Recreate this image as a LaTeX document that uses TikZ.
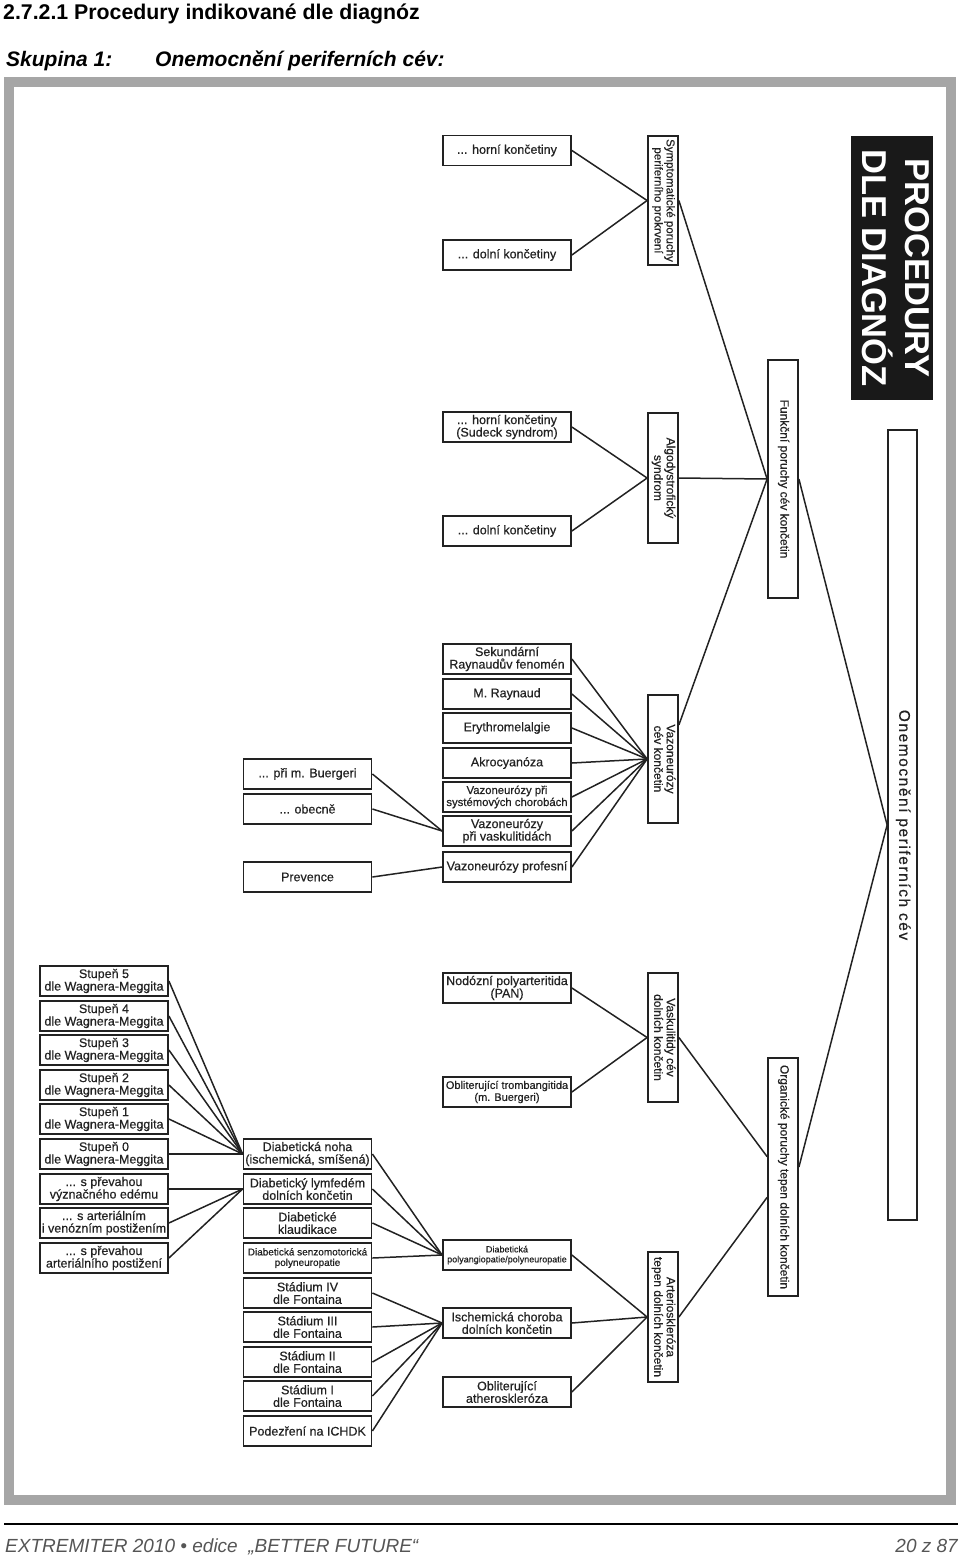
\documentclass[tikz,border=0pt]{standalone}
\usepackage{graphicx}
\usepackage{fontspec}
\setmainfont{Liberation Sans}
\newfontfamily\boxfont{Liberation Sans}[FakeBold=0.5]
\newfontfamily\spacedfont{Liberation Sans}[LetterSpace=10, FakeBold=0.5]
\definecolor{framegray}{HTML}{A6A6A6}
\definecolor{inkgray}{HTML}{222222}
\definecolor{footgray}{HTML}{555555}
\newcommand{\vlabel}[1]{\rotatebox{-90}{\begin{tabular}{@{}c@{}}#1\end{tabular}}}
\tikzset{
	box/.style={draw=inkgray, line width=1.8pt, fill=white, minimum width=128pt, minimum height=30pt, inner sep=1pt, align=center, text=inkgray, font={\boxfont\fontsize{12.5}{12.5}\selectfont}},
	vbox/.style={draw=inkgray, line width=1.8pt, fill=white, minimum width=30pt, inner sep=0pt, text=inkgray, font={\boxfont\fontsize{12}{12.5}\selectfont}},
	wire/.style={draw=inkgray, line width=1.5pt},
}
\begin{document}
\begin{tikzpicture}[x=1pt, y=-1pt]
	\useasboundingbox (0,0) rectangle (960,1558);
	% Heading, frame and footer:
	\node[anchor=base west, inner sep=0pt, font={\bfseries\fontsize{21.3}{24}\selectfont}] (title) at (3,19) {2.7.2.1 Procedury indikované dle diagnóz};
	\node[anchor=base west, inner sep=0pt, font={\bfseries\itshape\fontsize{21}{24}\selectfont}] (skupina) at (6,66) {Skupina 1:};
	\node[anchor=base west, inner sep=0pt, font={\bfseries\itshape\fontsize{21}{24}\selectfont}] (subtitle) at (155,66) {Onemocnění periferních cév:};
	\draw[framegray, line width=10pt] (9,81.5) rectangle (951,1500);
	\draw[line width=1.6pt] (4,1524) -- (958,1524);
	\node[anchor=base west, inner sep=0pt, text=footgray, font={\itshape\fontsize{19}{22}\selectfont}] (footer) at (5,1552) {EXTREMITER 2010 • edice \ „BETTER FUTURE“};
	\node[anchor=base east, inner sep=0pt, text=footgray, font={\itshape\fontsize{19}{22}\selectfont}] (pagenum) at (958,1552) {20 z 87};
	% Right column:
	\node[fill=black!90, minimum width=78pt, minimum height=264pt, inner sep=0pt, text=white, font={\bfseries\fontsize{34.5}{40}\selectfont}] (proc) at (892,268) {\vlabel{PROCEDURY\\DLE DIAGNÓZ}};
	\node[vbox, minimum width=29pt, minimum height=790pt, font={\spacedfont\fontsize{15.5}{16}\selectfont}] (onem) at (902.5,825) {\vlabel{Onemocnění periferních cév}};
	\node[vbox, minimum height=238pt] (funkcni) at (783,479) {\vlabel{Funkční poruchy cév končetin}};
	\node[vbox, minimum height=238pt] (organ) at (783,1177) {\vlabel{Organické poruchy tepen dolních končetin}};
	\node[vbox, minimum height=129pt, font={\boxfont\fontsize{11.5}{12}\selectfont}] (sympt) at (663,200.5) {\vlabel{Symptomatické poruchy\\periferního prokrvení}};
	\node[vbox, minimum height=130pt] (algo) at (663,478) {\vlabel{Algodystrofický\\syndrom}};
	\node[vbox, minimum height=128pt] (vazon) at (663,759) {\vlabel{Vazoneurózy\\cév končetin}};
	\node[vbox, minimum height=129pt] (vaskul) at (663,1037.5) {\vlabel{Vaskulitidy cév\\dolních končetin}};
	\node[vbox, minimum height=130pt] (arterio) at (663,1317) {\vlabel{Arterioskleróza\\tepen dolních končetin}};
	% Middle column:
	\node[box] (horniA) at (507,150.5) {... horní končetiny};
	\node[box] (dolniA) at (507,255) {... dolní končetiny};
	\node[box] (horniB) at (507,427) {... horní končetiny\\(Sudeck syndrom)};
	\node[box] (dolniB) at (507,531) {... dolní končetiny};
	\node[box] (sekund) at (507,659) {Sekundární\\Raynaudův fenomén};
	\node[box] (mraynaud) at (507,694) {M. Raynaud};
	\node[box] (erythro) at (507,728) {Erythromelalgie};
	\node[box] (akro) at (507,763) {Akrocyanóza};
	\node[box, font={\boxfont\fontsize{11.3}{12}\selectfont}] (vazsyst) at (507,797) {Vazoneurózy při\\systémových chorobách};
	\node[box] (vazvask) at (507,831) {Vazoneurózy\\při vaskulitidách};
	\node[box] (vazprof) at (507,867) {Vazoneurózy profesní};
	\node[box] (nodozni) at (507,988) {Nodózní polyarteritida\\(PAN)};
	\node[box, font={\boxfont\fontsize{11}{12}\selectfont}] (oblitTromb) at (507,1092) {Obliterující trombangitida\\(m. Buergeri)};
	\node[box, font={\boxfont\fontsize{9}{10}\selectfont}] (diabPoly) at (507,1255) {Diabetická\\polyangiopatie/polyneuropatie};
	\node[box] (ischem) at (507,1323) {Ischemická choroba\\dolních končetin};
	\node[box] (oblitAth) at (507,1392) {Obliterující\\atheroskleróza};
	% Second column:
	\node[box] (buergeri) at (307.5,774) {... při m. Buergeri};
	\node[box] (obecne) at (307.5,809) {... obecně};
	\node[box] (prevence) at (307.5,877) {Prevence};
	\node[box] (diabNoha) at (307.5,1154) {Diabetická noha\\(ischemická, smíšená)};
	\node[box] (lymfedem) at (307.5,1189) {Diabetický lymfedém\\dolních končetin};
	\node[box] (klaudik) at (307.5,1223) {Diabetické\\klaudikace};
	\node[box, font={\boxfont\fontsize{10}{10.5}\selectfont}] (senzomot) at (307.5,1258) {Diabetická senzomotorická\\polyneuropatie};
	\node[box] (stad4) at (307.5,1293) {Stádium IV\\dle Fontaina};
	\node[box] (stad3) at (307.5,1327) {Stádium III\\dle Fontaina};
	\node[box] (stad2) at (307.5,1362) {Stádium II\\dle Fontaina};
	\node[box] (stad1) at (307.5,1396) {Stádium I\\dle Fontaina};
	\node[box] (ichdk) at (307.5,1431) {Podezření na ICHDK};
	% Left column:
	\node[box] (st5) at (104,981) {Stupeň 5\\dle Wagnera-Meggita};
	\node[box] (st4) at (104,1016) {Stupeň 4\\dle Wagnera-Meggita};
	\node[box] (st3) at (104,1050) {Stupeň 3\\dle Wagnera-Meggita};
	\node[box] (st2) at (104,1085) {Stupeň 2\\dle Wagnera-Meggita};
	\node[box] (st1) at (104,1119) {Stupeň 1\\dle Wagnera-Meggita};
	\node[box] (st0) at (104,1154) {Stupeň 0\\dle Wagnera-Meggita};
	\node[box] (edem) at (104,1189) {... s převahou\\význačného edému};
	\node[box] (venoz) at (104,1223) {... s arteriálním\\i venózním postižením};
	\node[box] (arter) at (104,1258) {... s převahou\\arteriálního postižení};
	% Wires:
	\draw[wire] (funkcni.east) -- (onem.west);
	\draw[wire] (organ.32) -- (onem.west);
	\draw[wire] (sympt.east) -- (funkcni.west);
	\draw[wire] (algo.east) -- (funkcni.west);
	\draw[wire] (vazon.65) -- (funkcni.west);
	\draw[wire] (vaskul.east) -- (organ.128);
	\draw[wire] (arterio.east) -- (organ.232);
	\draw[wire] (horniA.east) -- (sympt.west);
	\draw[wire] (dolniA.east) -- (sympt.west);
	\draw[wire] (horniB.east) -- (algo.west);
	\draw[wire] (dolniB.east) -- (algo.west);
	\draw[wire] (sekund.east) -- (vazon.west);
	\draw[wire] (mraynaud.east) -- (vazon.west);
	\draw[wire] (erythro.east) -- (vazon.west);
	\draw[wire] (akro.east) -- (vazon.west);
	\draw[wire] (vazsyst.east) -- (vazon.west);
	\draw[wire] (vazvask.east) -- (vazon.west);
	\draw[wire] (vazprof.east) -- (vazon.west);
	\draw[wire] (nodozni.east) -- (vaskul.west);
	\draw[wire] (oblitTromb.east) -- (vaskul.west);
	\draw[wire] (diabPoly.east) -- (arterio.west);
	\draw[wire] (ischem.east) -- (arterio.west);
	\draw[wire] (oblitAth.east) -- (arterio.west);
	\draw[wire] (buergeri.east) -- (vazvask.west);
	\draw[wire] (obecne.east) -- (vazvask.west);
	\draw[wire] (prevence.east) -- (vazprof.west);
	\draw[wire] (diabNoha.east) -- (diabPoly.west);
	\draw[wire] (lymfedem.east) -- (diabPoly.west);
	\draw[wire] (klaudik.east) -- (diabPoly.west);
	\draw[wire] (senzomot.east) -- (diabPoly.west);
	\draw[wire] (stad4.east) -- (ischem.west);
	\draw[wire] (stad3.east) -- (ischem.west);
	\draw[wire] (stad2.east) -- (ischem.west);
	\draw[wire] (stad1.east) -- (ischem.west);
	\draw[wire] (ichdk.east) -- (ischem.west);
	\draw[wire] (st5.east) -- (diabNoha.west);
	\draw[wire] (st4.east) -- (diabNoha.west);
	\draw[wire] (st3.east) -- (diabNoha.west);
	\draw[wire] (st2.east) -- (diabNoha.west);
	\draw[wire] (st1.east) -- (diabNoha.west);
	\draw[wire] (st0.east) -- (diabNoha.west);
	\draw[wire] (edem.east) -- (lymfedem.west);
	\draw[wire] (venoz.east) -- (lymfedem.west);
	\draw[wire] (arter.east) -- (lymfedem.west);
\end{tikzpicture}
\end{document}
